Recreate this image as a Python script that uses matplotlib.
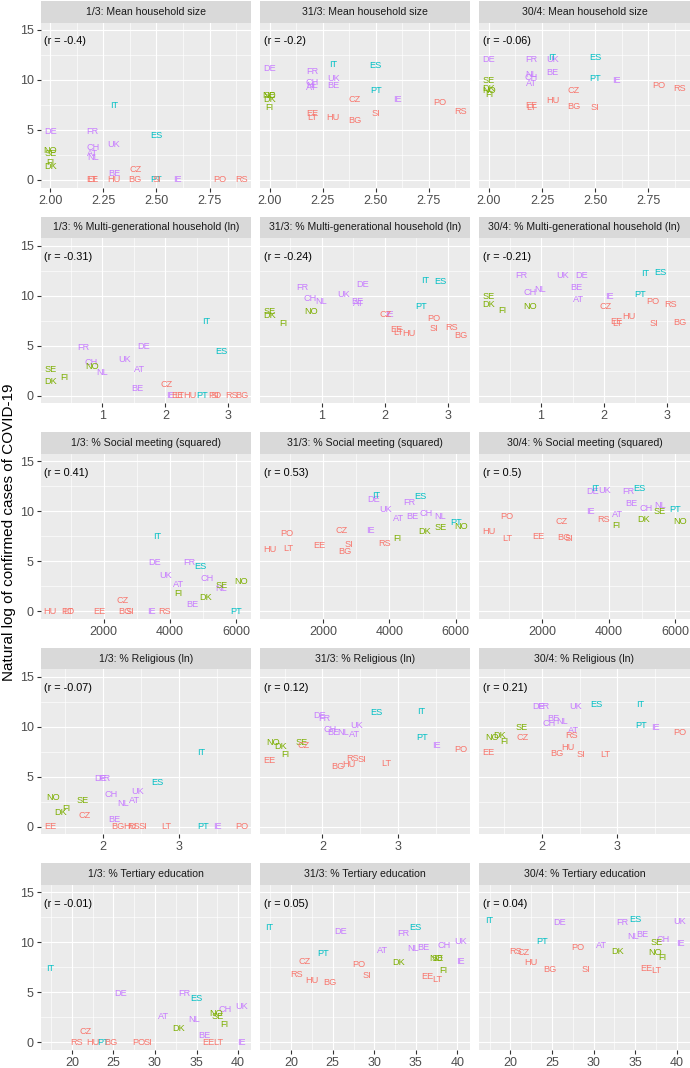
"""Faceted country-label scatter: log confirmed COVID-19 cases vs. household/social predictors."""

import matplotlib
matplotlib.use("Agg")
import matplotlib.pyplot as plt
from matplotlib.ticker import MultipleLocator, FormatStrFormatter

plt.rcParams["font.family"] = ["Liberation Sans", "DejaVu Sans"]

# ---- data --------------------------------------------------------------
countries = ["DE", "FR", "UK", "CH", "NL", "AT", "BE", "IE",
             "IT", "ES", "PT",
             "NO", "SE", "DK", "FI",
             "EE", "LT", "HU", "CZ", "BG", "SI", "PO", "RS"]
cluster = [3] * 8 + [2] * 3 + [1] * 4 + [0] * 8

dates = ["1/3", "31/3", "30/4"]
cases_0103 = [4.87, 4.85, 3.57, 3.27, 2.30, 2.64, 0.69, 0.0,
              7.43, 4.43, 0.0,
              2.92, 2.62, 1.39, 1.79,
              0.0, 0.0, 0.0, 1.10, 0.0, 0.0, 0.0, 0.0]
cases_3103 = [11.12, 10.86, 10.13, 9.72, 9.44, 9.23, 9.46, 8.08,
              11.52, 11.45, 8.91,
              8.44, 8.40, 8.00, 7.23,
              6.61, 6.30, 6.20, 8.10, 5.99, 6.69, 7.75, 6.80]
cases_3004 = [12.00, 12.00, 12.05, 10.30, 10.58, 9.65, 10.79, 9.93,
              12.23, 12.27, 10.13,
              8.95, 9.96, 9.14, 8.52,
              7.43, 7.24, 7.96, 8.95, 7.32, 7.26, 9.46, 9.14]

household_size = [2.0, 2.2, 2.3, 2.2, 2.2, 2.2, 2.3, 2.6,
                  2.3, 2.5, 2.5,
                  2.0, 2.0, 2.0, 2.0,
                  2.2, 2.2, 2.3, 2.4, 2.4, 2.5, 2.8, 2.9]
multigen_ln = [1.65, 0.69, 1.35, 0.82, 0.99, 1.59, 1.56, 2.08,
               2.65, 2.89, 2.58,
               0.83, 0.17, 0.17, 0.39,
               2.19, 2.22, 2.39, 2.02, 3.21, 2.79, 2.78, 3.06]
social_sq = [3530, 4590, 3880, 5120, 5540, 4270, 4680, 3440,
             3600, 4920, 6000,
             6150, 5545, 5060, 4240,
             1880, 945, 390, 2570, 2650, 2790, 920, 3840]
religious_ln = [1.96, 2.02, 2.45, 2.10, 2.27, 2.42, 2.15, 3.51,
                3.30, 2.72, 3.32,
                1.34, 1.73, 1.44, 1.51,
                1.30, 2.84, 2.35, 1.75, 2.20, 2.52, 3.83, 2.40]
tertiary = [25.9, 33.5, 40.4, 38.4, 34.7, 31.0, 35.9, 40.4,
            17.4, 35.0, 23.8,
            37.4, 37.6, 32.9, 38.3,
            36.4, 37.6, 22.5, 21.6, 24.7, 29.1, 28.1, 20.6]

variables = ["Mean household size", "% Multi-generational household (ln)",
             "% Social meeting (squared)", "% Religious (ln)",
             "% Tertiary education"]
r_household = ["-0.4", "-0.2", "-0.06"]
r_multigen = ["-0.31", "-0.24", "-0.21"]
r_social = ["0.41", "0.53", "0.5"]
r_religious = ["-0.07", "0.12", "0.21"]
r_tertiary = ["-0.01", "0.05", "0.04"]

# ---- style -------------------------------------------------------------
PALETTE = ["#F8766D", "#7CAE00", "#00BFC4", "#C77CFF"]
W, H = 690, 1068
PANEL_W, PANEL_H, STRIP_H = 210.3, 165, 21.5
COL_LEFT = [40.7, 260.0, 479.3]
ROW_TOP = [22.5 + i * 215.6 for i in range(5)]

# (major step, minor step, tick format) per predictor row
AXIS_FMT = [(0.25, 0.125, "%.2f"), (1, 0.5, "%d"), (2000, 1000, "%d"),
            (1, 0.5, "%d"), (5, 2.5, "%d")]


def fig_rect(left, top, width, height):
    return [left / W, 1 - (top + height) / H, width / W, height / H]


def main() -> None:
    xs = [household_size, multigen_ln, social_sq, religious_ln, tertiary]
    rs = [r_household, r_multigen, r_social, r_religious, r_tertiary]
    ys = [cases_0103, cases_3103, cases_3004]

    fig = plt.figure(figsize=(W / 100, H / 100), dpi=100)

    for i, (xv, var) in enumerate(zip(xs, variables)):
        lo, hi = min(xv), max(xv)
        pad = 0.05 * (hi - lo)
        major, minor, fmt = AXIS_FMT[i]
        for j, date in enumerate(dates):
            left, top = COL_LEFT[j], ROW_TOP[i]
            ax = fig.add_axes(fig_rect(left, top, PANEL_W, PANEL_H))
            ax.set_facecolor("#EBEBEB")
            ax.set_axisbelow(True)
            for s in ax.spines.values():
                s.set_visible(False)
            ax.set_xlim(lo - pad, hi + pad)
            ax.set_ylim(-0.75, 15.75)
            ax.xaxis.set_major_locator(MultipleLocator(major))
            ax.xaxis.set_minor_locator(MultipleLocator(minor))
            ax.xaxis.set_major_formatter(FormatStrFormatter(fmt))
            ax.set_yticks([0, 5, 10, 15])
            ax.set_yticks([2.5, 7.5, 12.5], minor=True)
            ax.grid(which="major", color="white", lw=0.85)
            ax.grid(which="minor", color="white", lw=0.45)
            ax.tick_params(which="major", length=2.9, width=0.8, color="#333333",
                           labelcolor="#4D4D4D", labelsize=9, pad=2.2)
            ax.tick_params(which="minor", length=0)
            if j > 0:
                ax.tick_params(axis="y", left=False, labelleft=False)

            for c, x, y, g in zip(countries, xv, ys[j], cluster):
                ax.text(x, y, c, ha="center", va="center", fontsize=6.6,
                        color=PALETTE[g], clip_on=True)
            ax.text(0.017, 13.85, f"(r = {rs[i][j]})", transform=ax.get_yaxis_transform(),
                    ha="left", va="center", fontsize=7.8, color="black")

            sax = fig.add_axes(fig_rect(left, top - STRIP_H, PANEL_W, STRIP_H))
            sax.set_facecolor("#D9D9D9")
            sax.set_xticks([]); sax.set_yticks([])
            for s in sax.spines.values():
                s.set_visible(False)
            sax.text(0.5, 0.5, f"{date}: {var}", ha="center", va="center",
                     fontsize=7.6, color="#1A1A1A", transform=sax.transAxes)

    fig.text(9 / W, 1 - 532 / H, "Natural log of confirmed cases of COVID-19",
             rotation=90, ha="center", va="center", fontsize=11, color="black")

    fig.savefig("out.png", dpi=100)
    plt.close(fig)


if __name__ == "__main__":
    main()
